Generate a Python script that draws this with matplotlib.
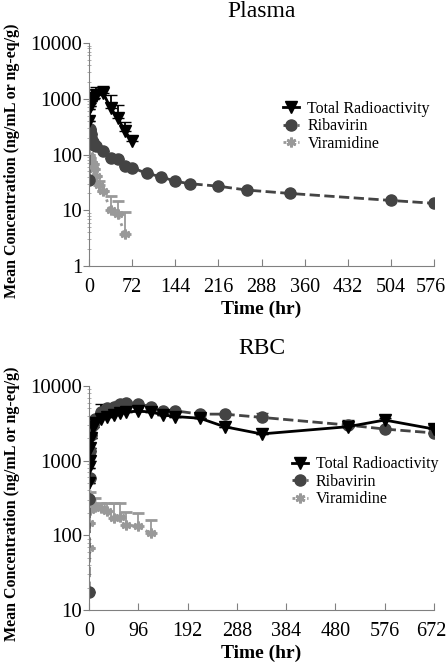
import numpy as np
import matplotlib
matplotlib.use("Agg")
import matplotlib.pyplot as plt
import matplotlib.transforms as mtransforms
from matplotlib.ticker import FixedLocator, LogLocator, NullFormatter

plt.rcParams['font.family'] = ['Liberation Serif', 'DejaVu Serif']

# ---- Plasma data (hr, concentration, upper error) ----
p_tr_t = [0.25, 0.5, 1, 2, 3, 4, 6, 8, 12, 24, 36, 48, 60, 72]
p_tr_y = [400, 650, 750, 850, 900, 950, 1000, 1050, 1150, 1250, 680, 450, 260, 175]
p_tr_e = [0, 0, 0, 0, 0, 0, 0, 0, 450, 450, 470, 310, 120, 40]

p_rb_t = [0.25, 0.5, 1, 2, 3, 4, 6, 8, 12, 24, 36, 48, 60, 72, 96, 120, 144, 168, 216, 264, 336, 504, 576]
p_rb_y = [35, 200, 290, 260, 230, 200, 170, 150, 140, 114, 87, 84, 62, 58, 46, 40, 33, 30, 27, 23, 20, 15, 13.3]

p_vr_t = [0.25, 0.5, 1, 2, 4, 6, 8, 12, 16, 24, 36, 48, 60]
p_vr_y = [90, 100, 85, 78, 72, 68, 55, 41, 28, 22, 10, 8.5, 3.7]
p_vr_e = [0, 0, 0, 0, 0, 0, 0, 0, 6, 0, 8, 6, 5.5]

# ---- RBC data ----
r_tr_t = [0.25, 0.5, 1, 2, 4, 8, 12, 24, 36, 48, 60, 72, 96, 120, 144, 168, 216, 264, 336, 504, 576, 672]
r_tr_y = [500, 800, 1000, 1500, 2000, 2800, 3200, 3600, 3900, 4100, 4300, 4500, 4600, 4500, 4100, 3900, 3700, 2850, 2280, 2850, 3500, 2650]
r_tr_e = [0, 0, 0, 0, 0, 0, 0, 2100, 0, 0, 0, 0, 0, 0, 0, 0, 0, 0, 0, 650, 270, 350]

r_rb_t = [0.25, 0.5, 1, 2, 4, 8, 12, 24, 36, 48, 60, 72, 96, 120, 144, 168, 216, 264, 336, 504, 576, 672]
r_rb_y = [17.5, 310, 580, 1350, 2200, 3000, 3600, 4500, 5000, 5300, 5800, 5900, 5750, 5300, 4600, 4650, 4200, 4200, 3800, 3000, 2650, 2350]
r_rb_e = [0, 0, 0, 0, 0, 0, 0, 0, 0, 0, 500, 400, 0, 0, 0, 0, 0, 0, 600, 0, 0, 0]

r_vr_t = [0.25, 0.5, 1, 2, 4, 8, 12, 24, 36, 48, 60, 72, 96, 120]
r_vr_y = [68, 145, 220, 300, 265, 250, 240, 235, 215, 170, 178, 138, 132, 106]
r_vr_e = [0, 0, 0, 80, 0, 0, 75, 40, 60, 100, 95, 65, 65, 55]

labels = ['Total Radioactivity', 'Ribavirin', 'Viramidine']
c_tr, c_rb, c_vr = 'black', '#444444', '#999999'

fig = plt.figure(figsize=(4.48, 6.63), dpi=100)


def panel(rect, title, tpad, tr, rb, vr, xmax, xstep, ymin, legend_pos):
    ax = fig.add_axes(rect)
    ax.set_yscale('log')
    t, y, e = vr
    ax.errorbar(t, y, yerr=[np.zeros(len(e)), e], color=c_vr, ls=':', lw=2,
                marker=(6, 2, 0), ms=7, mew=2, capsize=4, elinewidth=1.3, label=labels[2])
    t, y, e = rb
    ax.errorbar(t, y, yerr=[np.zeros(len(e)), e], color=c_rb, ls='--', lw=2,
                marker='o', ms=8, capsize=4, elinewidth=1.3, label=labels[1])
    t, y, e = tr
    ax.errorbar(t, y, yerr=[np.zeros(len(e)), e], color=c_tr, ls='-', lw=2,
                marker='v', ms=8, capsize=4, elinewidth=1.3, label=labels[0])
    ax.set_xlim(0, xmax)
    ax.set_ylim(ymin, 10000)
    ax.set_xticks(np.arange(0, xmax + 1, xstep))
    ax.yaxis.set_major_locator(FixedLocator([10 ** k for k in range(int(np.log10(ymin)), 5)]))
    ax.yaxis.set_major_formatter(plt.FuncFormatter(lambda v, p: '%d' % v))
    ax.yaxis.set_minor_locator(LogLocator(base=10, subs=np.arange(2, 10)))
    ax.yaxis.set_minor_formatter(NullFormatter())
    for s in ['top', 'right']:
        ax.spines[s].set_visible(False)
    for s in ['left', 'bottom']:
        ax.spines[s].set_color('#808080')
    ax.tick_params(axis='x', direction='in', length=5, color='#808080', labelsize=14.5, pad=8.5)
    ax.tick_params(axis='y', which='major', direction='out', length=4, color='#808080',
                   labelsize=15, pad=1)
    ax.tick_params(axis='y', which='minor', direction='inout', length=3, color='#a0a0a0')
    # keep the last x tick label inside the figure
    last = ax.get_xticklabels()[-1]
    last.set_transform(last.get_transform() +
                       mtransforms.ScaledTranslation(-3 / 100, 0, fig.dpi_scale_trans))
    ax.set_title(title, fontsize=17, pad=tpad)
    ax.set_xlabel('Time (hr)', fontsize=14, fontweight='bold', labelpad=3)
    ax.set_ylabel('Mean Concentration (ng/mL or ng-eq/g)', fontsize=11.5, fontweight='bold')
    ax.yaxis.set_label_coords(-0.2, 0.473)
    h, l = ax.get_legend_handles_labels()
    h = [hh[0] for hh in h][::-1]
    ax.legend(h, l[::-1], loc='upper left', bbox_to_anchor=legend_pos, frameon=False,
              fontsize=11.5, handlelength=1.0, handletextpad=0.5, labelspacing=0.1,
              borderaxespad=0)
    return ax


panel([89 / 448, 1 - 266 / 663, 345 / 448, 223 / 663], 'Plasma', 19,
      (p_tr_t, p_tr_y, p_tr_e), (p_rb_t, p_rb_y, np.zeros(len(p_rb_t))),
      (p_vr_t, p_vr_y, p_vr_e), 576, 72, 1, (0.545, 0.77))
panel([89 / 448, 1 - 610 / 663, 345 / 448, 224 / 663], 'RBC', 23,
      (r_tr_t, r_tr_y, r_tr_e), (r_rb_t, r_rb_y, r_rb_e),
      (r_vr_t, r_vr_y, r_vr_e), 672, 96, 10, (0.57, 0.715))

fig.savefig('out.png', dpi=100)
